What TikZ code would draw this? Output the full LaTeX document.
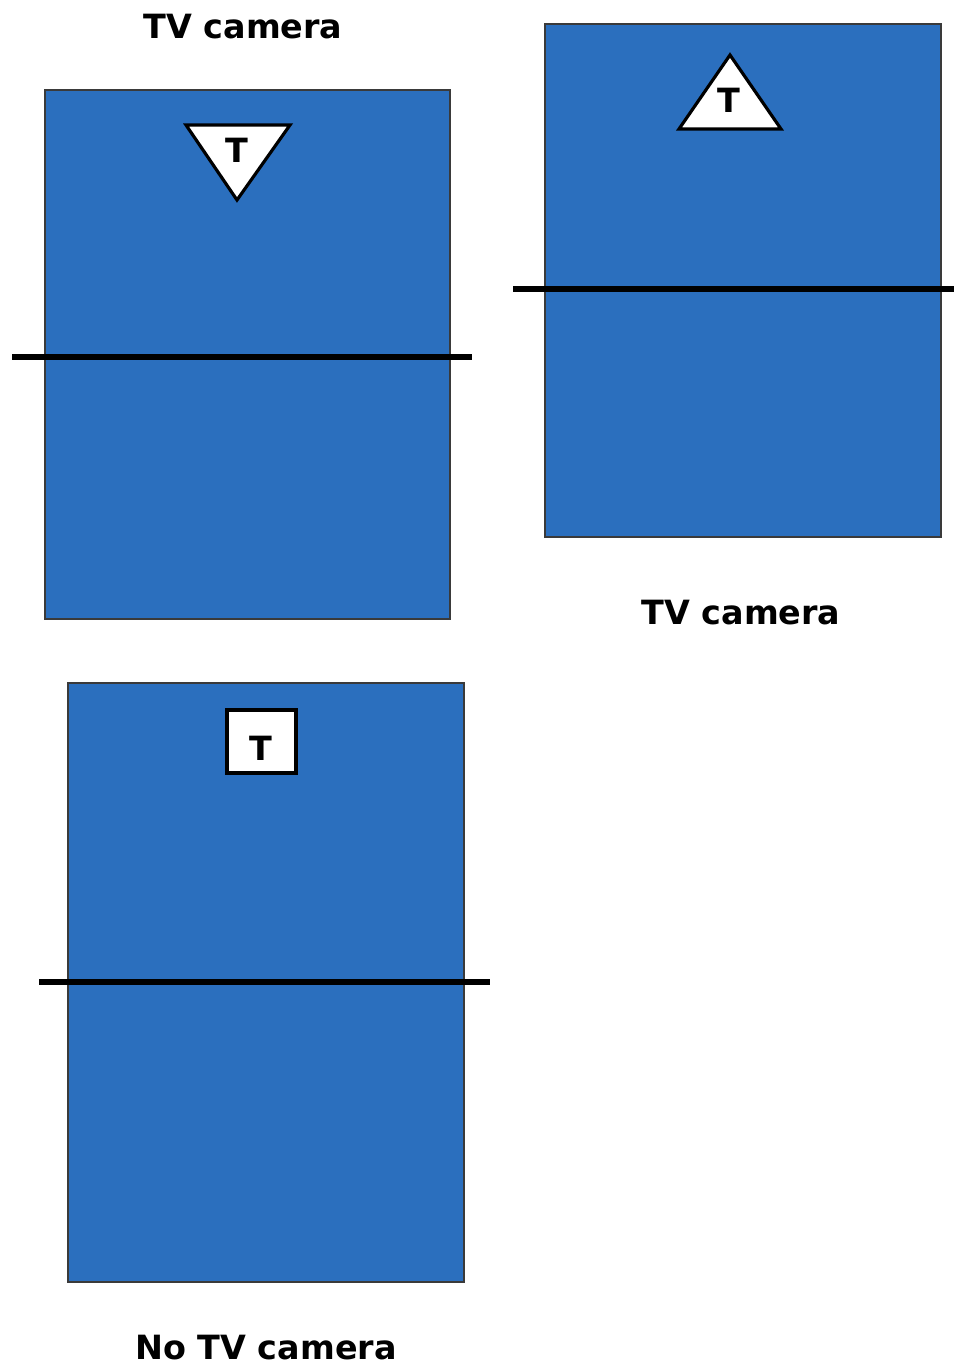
\documentclass[tikz,border=0pt]{standalone}
\usepackage{fontspec}
\newfontfamily\camfont{DejaVu Sans}
\usetikzlibrary{positioning}

\begin{document}
\begin{tikzpicture}[
    x=0.02cm,
    y=-0.02cm,
    line join=miter,
    label/.style={font=\camfont\bfseries\fontsize{19}{22}\selectfont, text=black},
    tletter/.style={font=\camfont\bfseries\fontsize{19}{21}\selectfont, text=black, inner sep=0pt},
    panel/.style={fill=camblue, draw=panelgray, line width=0.8pt},
    horizon/.style={line width=3.2pt, black},
    symbol/.style={fill=white, draw=black, line width=1.8pt}
]

% -------------------------------------------------
% Palette
% -------------------------------------------------
\definecolor{camblue}{HTML}{2B6FBE}   % panel blue
\definecolor{panelgray}{HTML}{3A3A3A} % panel border

\useasboundingbox (0,0) rectangle (954,1366);

% -------------------------------------------------
% Top left panel
% -------------------------------------------------
\def\Ax{45}
\def\Ay{90}

\node[label] (labelA) at (243,27) {TV camera};

\path[panel] (\Ax,\Ay) rectangle ++(405,529);
\draw[horizon] (12,357) -- (472,357);

% Downward triangle
\path[symbol] (186,125) -- (290,125) -- (237,200) -- cycle;
\node[tletter] (letterA) at (237,150) {T};

% -------------------------------------------------
% Top right panel
% -------------------------------------------------
\def\Bx{545}
\def\By{24}

\path[panel] (\Bx,\By) rectangle ++(396,513);
\draw[horizon] (513,289) -- (954,289);

% Upward triangle
\path[symbol] (730,55) -- (781,129) -- (679,129) -- cycle;
\node[tletter] (letterB) at (729,100) {T};

\node[label] (labelB) at (741,613) {TV camera};

% -------------------------------------------------
% Bottom panel
% -------------------------------------------------
\def\Cx{68}
\def\Cy{683}

\path[panel] (\Cx,\Cy) rectangle ++(396,599);
\draw[horizon] (39,982) -- (490,982);

% Square
\path[symbol] (227,710) rectangle (296,773);
\node[tletter] (letterC) at (261,748) {T};

\node[label] (labelC) at (266,1348) {No TV camera};

\end{tikzpicture}
\end{document}
